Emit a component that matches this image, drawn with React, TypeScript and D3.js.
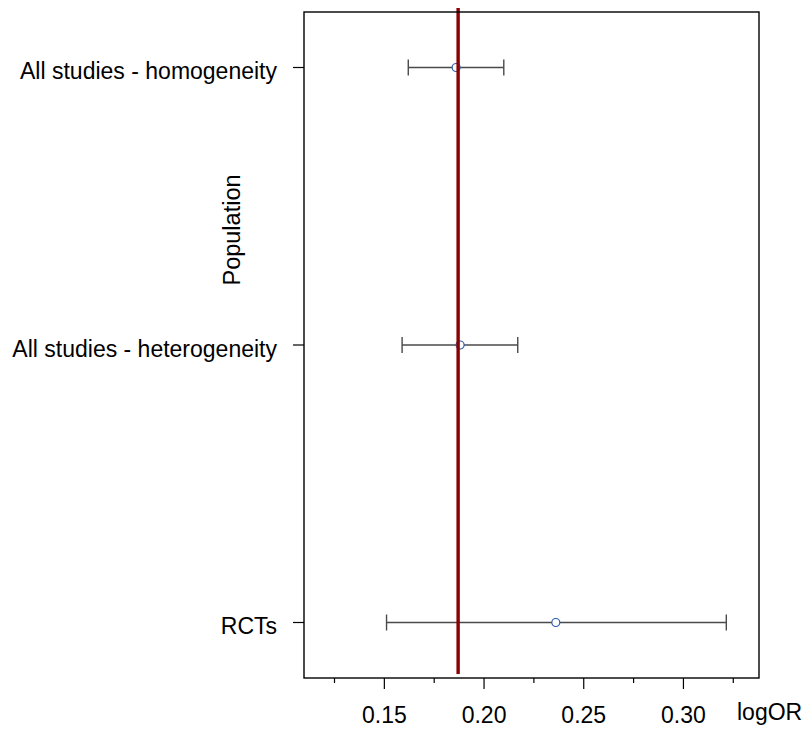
import * as d3 from "d3";
import React from "react";

// data
const populations = ["All studies - homogeneity", "All studies - heterogeneity", "RCTs"];
const estimates = [0.186, 0.188, 0.236];
const lowerCI = [0.162, 0.1589, 0.1511];
const upperCI = [0.2099, 0.2169, 0.3215];
const pooledLine = 0.187;

const majorTicks = [0.15, 0.2, 0.25, 0.3];
const majorLabels = ["0.15", "0.20", "0.25", "0.30"];
const minorTicks = [0.125, 0.175, 0.225, 0.275, 0.325];

const W = 806;
const H = 733;
const margin = { top: 12, right: 47, bottom: 55, left: 304 };
const FONT = "'Liberation Sans', Arial, Helvetica, sans-serif";

export default function App() {
  const x = d3.scaleLinear().domain([0.1097, 0.3379]).range([margin.left, W - margin.right]);
  const y = d3
    .scalePoint<string>()
    .domain(populations)
    .range([margin.top, H - margin.bottom])
    .padding(0.2);

  const top = margin.top;
  const bottom = H - margin.bottom;
  const left = margin.left;
  const right = W - margin.right;

  return (
    <div style={{ position: "absolute", left: 0, top: 0 }}>
      <svg width={W} height={H} style={{ display: "block", fontFamily: FONT }}>
        <rect x={0} y={0} width={W} height={H} fill="white" />

        {/* error bars */}
        {populations.map((p, i) => {
          const cy = y(p)!;
          return (
            <g key={p}>
              <line x1={x(lowerCI[i])} x2={x(upperCI[i])} y1={cy} y2={cy} stroke="#4a4a4a" strokeWidth={1.4} />
              <line x1={x(lowerCI[i])} x2={x(lowerCI[i])} y1={cy - 8} y2={cy + 8} stroke="#4a4a4a" strokeWidth={1.4} />
              <line x1={x(upperCI[i])} x2={x(upperCI[i])} y1={cy - 8} y2={cy + 8} stroke="#4a4a4a" strokeWidth={1.4} />
              <circle cx={x(estimates[i])} cy={cy} r={4} fill="white" stroke="#2a5caa" strokeWidth={1.2} />
            </g>
          );
        })}

        {/* pooled estimate */}
        <line x1={x(pooledLine)} x2={x(pooledLine)} y1={top - 4} y2={bottom - 4} stroke="#8b0000" strokeWidth={3.4} />

        {/* box */}
        <rect x={left} y={top} width={right - left} height={bottom - top} fill="none" stroke="black" strokeWidth={1.4} />

        {/* y axis */}
        {populations.map((p) => (
          <g key={"yl" + p}>
            <line x1={left - 11} x2={left} y1={y(p)!} y2={y(p)!} stroke="black" strokeWidth={1.2} />
            <text x={left - 27} y={y(p)!} dy="0.5em" textAnchor="end" fontSize={23} fill="black">
              {p}
            </text>
          </g>
        ))}
        <text
          transform={`translate(240, 230) rotate(-90)`}
          textAnchor="middle"
          fontSize={23.5}
          fill="black"
        >
          Population
        </text>

        {/* x axis */}
        {minorTicks.map((t) => (
          <line key={"mn" + t} x1={x(t)} x2={x(t)} y1={bottom} y2={bottom + 5} stroke="black" strokeWidth={1.2} />
        ))}
        {majorTicks.map((t, i) => (
          <g key={"mj" + t}>
            <line x1={x(t)} x2={x(t)} y1={bottom} y2={bottom + 11} stroke="black" strokeWidth={1.2} />
            <text x={x(t)} y={bottom + 45} textAnchor="middle" fontSize={23} fill="black">
              {majorLabels[i]}
            </text>
          </g>
        ))}
        <text x={737} y={bottom + 42} fontSize={23} fill="black">
          logOR
        </text>
      </svg>
    </div>
  );
}
